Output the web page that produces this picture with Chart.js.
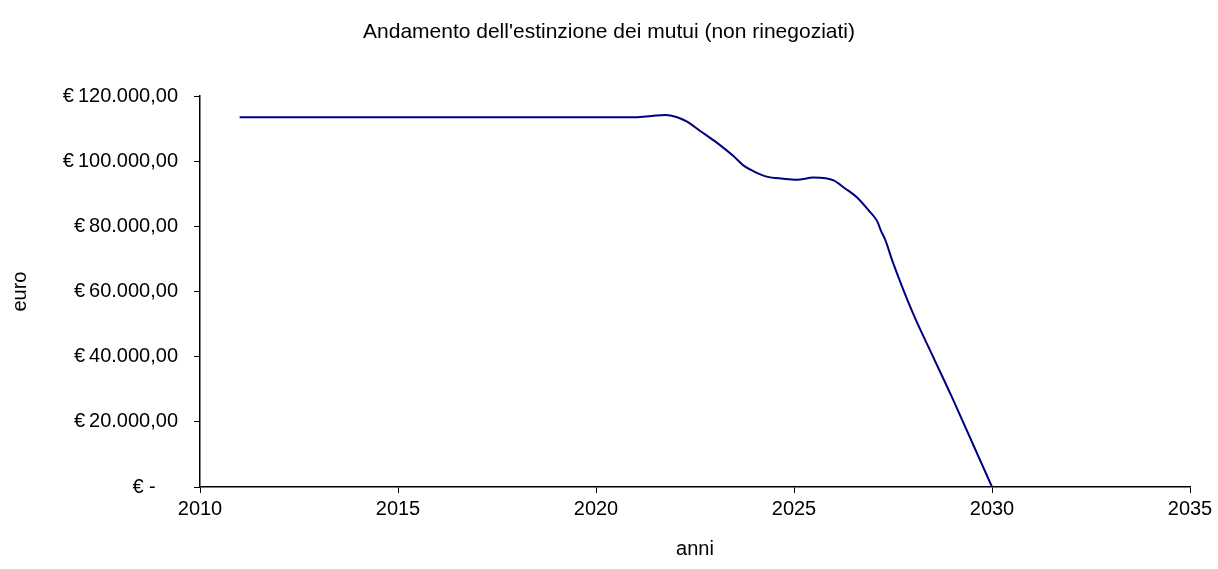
<!DOCTYPE html>
<html>
<head>
<meta charset="utf-8">
<script src="https://cdn.jsdelivr.net/npm/chart.js@4/dist/chart.umd.min.js"></script>
<style>
  html, body { margin: 0; padding: 0; background: #fff; }
  #wrap { width: 1218px; height: 569px; position: relative; }
</style>
</head>
<body>
<div id="wrap"><canvas id="c" width="1218" height="569"></canvas></div>
<script>
const chartTitle = "Andamento dell'estinzione dei mutui (non rinegoziati)";
const xAxisTitle = "anni";
const yAxisTitle = "euro";

const years = [2011, 2012, 2013, 2014, 2015, 2016, 2017, 2018, 2019, 2020, 2021,
  2021.4, 2021.75, 2022.05, 2022.3, 2022.63, 2023.05, 2023.47, 2023.72, 2023.97,
  2024.31, 2024.73, 2025.07, 2025.49, 2025.8, 2026.0, 2026.3, 2026.6, 2026.9,
  2027.1, 2027.2, 2027.3, 2027.5, 2028.0, 2028.5, 2029.0, 2030.0];
const balances = [113500, 113500, 113500, 113500, 113500, 113500, 113500, 113500, 113500, 113500, 113500,
  113900, 114250, 113550, 112200, 109320, 105750, 101630, 98770, 97020,
  95300, 94670, 94360, 95000, 94800, 94150, 91600, 88830, 84720,
  81630, 78560, 76000, 68900, 53440, 40300, 27290, 0];

const xTicks = [2010, 2015, 2020, 2025, 2030, 2035];
const yTicks = [0, 20000, 40000, 60000, 80000, 100000, 120000];

function fmtEuro(v) {
  if (v === 0) return '€ -' + '\u00a0\u00a0\u00a0\u00a0';
  const s = Math.round(v).toString().replace(/\B(?=(\d{3})+(?!\d))/g, '.');
  return '€\u2009' + s + ',00';
}

const FONT = 'Liberation Sans, Arial, sans-serif';

new Chart(document.getElementById('c'), {
  type: 'line',
  data: {
    datasets: [{
      data: years.map((x, i) => ({ x: x, y: balances[i] })),
      borderColor: '#000080',
      borderWidth: 2,
      pointRadius: 0,
      fill: false,
      cubicInterpolationMode: 'monotone'
    }]
  },
  options: {
    responsive: false,
    animation: false,
    layout: { padding: { left: 0, right: 0, top: 0, bottom: 0 } },
    plugins: {
      legend: { display: false },
      tooltip: { enabled: false },
      title: {
        display: true,
        text: chartTitle,
        color: '#000',
        font: { family: FONT, size: 21, weight: 'normal' },
        padding: { top: 20, bottom: 51 }
      }
    },
    scales: {
      x: {
        type: 'linear',
        min: xTicks[0],
        max: xTicks[xTicks.length - 1],
        afterBuildTicks: (s) => { s.ticks = xTicks.map(v => ({ value: v })); },
        afterFit: (s) => { s.height = 82; s.paddingRight = 28; },
        ticks: {
          color: '#000',
          font: { family: FONT, size: 20 },
          padding: 4,
          maxRotation: 0,
          callback: (v) => String(v)
        },
        grid: { drawOnChartArea: false, color: '#000', tickLength: 6, lineWidth: 1 },
        border: { color: '#000', width: 1.5 },
        title: {
          display: true,
          text: xAxisTitle,
          color: '#000',
          font: { family: FONT, size: 20 },
          padding: { top: 0, bottom: 8 }
        }
      },
      y: {
        min: yTicks[0],
        max: yTicks[yTicks.length - 1],
        afterBuildTicks: (s) => { s.ticks = yTicks.map(v => ({ value: v })); },
        afterFit: (s) => { s.width = 200; },
        ticks: {
          color: '#000',
          font: { family: FONT, size: 20 },
          padding: 16,
          callback: (v) => fmtEuro(v)
        },
        grid: { drawOnChartArea: false, color: '#000', tickLength: 6, lineWidth: 1 },
        border: { color: '#000', width: 1.5 },
        title: {
          display: true,
          text: yAxisTitle,
          color: '#000',
          font: { family: FONT, size: 20 },
          padding: { top: 8, bottom: 0 }
        }
      }
    }
  }
});
</script>
</body>
</html>
